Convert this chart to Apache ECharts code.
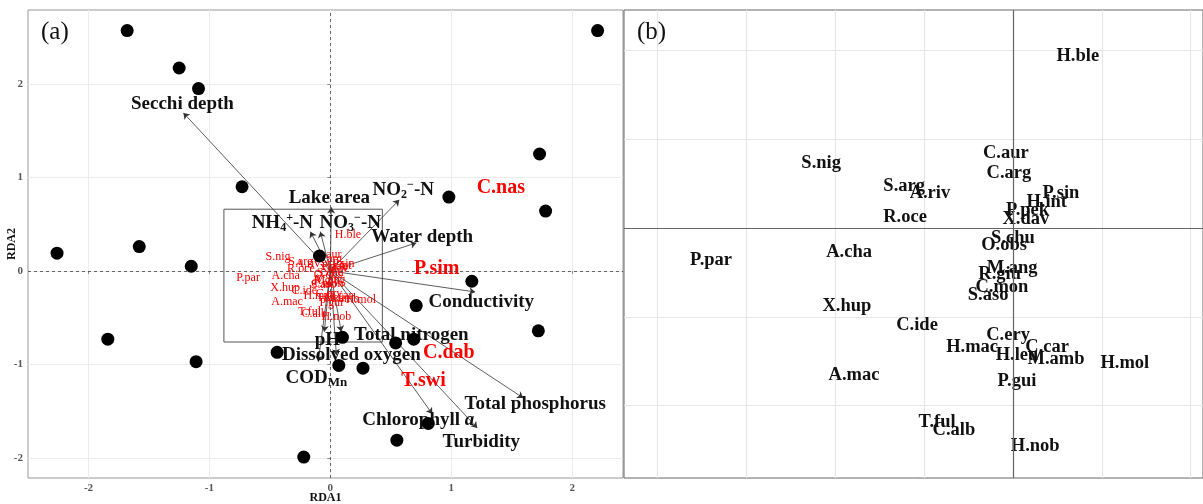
<!DOCTYPE html>
<html>
<head>
<meta charset="utf-8">
<script src="https://cdn.jsdelivr.net/npm/echarts@6/dist/echarts.min.js"></script>
<style>
  html, body { margin: 0; padding: 0; background: #fff; }
  #chart { width: 1203px; height: 504px; }
</style>
</head>
<body>
<div id="chart"></div>
<script>
// Sites (black dots), RDA1 / RDA2
const siteX = [-1.68, -1.25, -1.09, -0.73, -2.26, -1.58, -1.15, -1.84, -1.11, -0.22, -0.44, -0.09, 0.10,
  0.07, 0.27, 0.54, 0.69, 0.71, 1.17, 1.72, 0.81, 0.55, 0.98, 1.73, 1.78, 2.21];
const siteY = [2.57, 2.17, 1.95, 0.90, 0.19, 0.26, 0.05, -0.73, -0.97, -1.99, -0.87, 0.16, -0.71,
  -1.01, -1.04, -0.77, -0.73, -0.37, -0.11, -0.64, -1.63, -1.81, 0.79, 1.25, 0.64, 2.57];

// Environmental variables (arrow tips and label spots)
const envNames = ["Secchi depth", "Lake area", "NH{sub|4}{sup|+}-N", "NO{sub|3}{sup|\u2212}-N",
  "NO{sub|2}{sup|\u2212}-N", "Water depth", "Conductivity", "Total phosphorus",
  "Chlorophyll {it|a}", "Turbidity", "Total nitrogen", "pH", "Dissolved oxygen", "COD{mn|Mn}"];
const envX = [-1.215, 0.008, -0.165, -0.083, 0.57, 0.711, 1.198, 1.595, 0.843, 1.215, 0.09, -0.05, 0.05, -0.10];
const envY = [1.69, 0.68, 0.42, 0.42, 0.76, 0.30, -0.225, -1.358, -1.529, -1.679, -0.65, -0.65, -0.90, -0.97];
const envLabelX = [-1.223, -0.008, -0.397, 0.165, 0.603, 0.76, 1.248, 1.694, 0.727, 1.248, 0.67, -0.025, 0.174, -0.116];
const envLabelY = [1.786, 0.78, 0.513, 0.513, 0.866, 0.364, -0.332, -1.422, -1.594, -1.829, -0.684, -0.738, -0.898, -1.144];

// Species scores (red in panel a, black in panel b)
const sppNames = ["H.ble", "S.nig", "C.aur", "C.arg", "S.arg", "A.riv", "R.oce", "P.sin", "H.int", "P.pek",
  "X.dav", "S.chu", "O.obs", "M.ang", "R.giu", "C.mon", "S.aso", "P.par", "A.cha", "X.hup", "C.ide", "A.mac",
  "C.ery", "H.mac", "C.car", "H.leu", "M.amb", "H.mol", "P.gui", "T.ful", "C.alb", "H.nob"];
const sppX = [0.146, -0.432, -0.016, -0.009, -0.245, -0.187, -0.243, 0.108, 0.076, 0.033,
  0.029, 0.0, -0.02, -0.002, -0.03, -0.025, -0.056, -0.68, -0.369, -0.374, -0.216, -0.358,
  -0.011, -0.092, 0.077, 0.009, 0.097, 0.252, 0.009, -0.171, -0.133, 0.05];
const sppY = [0.387, 0.146, 0.169, 0.124, 0.095, 0.079, 0.025, 0.079, 0.058, 0.04,
  0.02, -0.023, -0.038, -0.09, -0.104, -0.133, -0.151, -0.072, -0.054, -0.176, -0.218, -0.331,
  -0.241, -0.268, -0.268, -0.286, -0.295, -0.304, -0.345, -0.437, -0.455, -0.491];

// Species lying outside the zoom box
const farSppNames = ["C.nas", "P.sim", "C.dab", "T.swi"];
const farSppX = [1.41, 0.88, 0.98, 0.77];
const farSppY = [0.89, 0.02, -0.88, -1.17];

// Axis ticks / grid
const ticksA = [-2, -1, 0, 1, 2];
const gridBx = [-0.8, -0.6, -0.4, -0.2, 0, 0.2, 0.4];
const gridBy = [-0.4, -0.2, 0, 0.2, 0.4];
const zoomBox = [-0.88, 0.66, 0.43, -0.76];

const SERIF = "'Liberation Serif', 'Times New Roman', serif";

const envRich = {
  sub: { fontFamily: SERIF, fontWeight: "bold", fontSize: 12, lineHeight: 12, verticalAlign: "bottom", fill: "#111" },
  sup: { fontFamily: SERIF, fontWeight: "bold", fontSize: 12, lineHeight: 12, verticalAlign: "top", fill: "#111" },
  it: { fontFamily: SERIF, fontWeight: "bold", fontStyle: "italic", fontSize: 19, fill: "#111" },
  mn: { fontFamily: SERIF, fontWeight: "bold", fontSize: 13, padding: [14, 0, 0, 0], verticalAlign: "bottom", fill: "#111" },
};

// text labels placed through the axes
const textSeries = (idx, names, xs, ys, style, z) => ({
  type: "custom",
  xAxisIndex: idx,
  yAxisIndex: idx,
  silent: true,
  z: z,
  data: names.map((n, i) => [xs[i], ys[i]]),
  encode: { x: 0, y: 1 },
  renderItem: (params, api) => {
    const p = api.coord([api.value(0), api.value(1)]);
    return {
      type: "text",
      x: p[0],
      y: p[1],
      style: Object.assign({ text: names[params.dataIndex], align: "center", verticalAlign: "middle" }, style),
    };
  },
});

const chart = echarts.init(document.getElementById("chart"));

const option = {
  animation: false,
  backgroundColor: "#fff",
  title: [
    { text: "(a)", left: 36, top: 15, textStyle: { fontFamily: SERIF, fontWeight: "normal", fontSize: 25, color: "#111" } },
    { text: "(b)", left: 632, top: 15, textStyle: { fontFamily: SERIF, fontWeight: "normal", fontSize: 25, color: "#111" } },
  ],
  grid: [
    { left: 28, top: 10, width: 595, height: 468, outerBoundsMode: "none", containLabel: false,
      show: true, borderColor: "#999", borderWidth: 1, backgroundColor: "transparent" },
    { left: 624, top: 10, width: 579, height: 468, outerBoundsMode: "none", containLabel: false,
      show: true, borderColor: "#666", borderWidth: 1, backgroundColor: "transparent" },
  ],
  xAxis: [
    {
      gridIndex: 0, type: "value", min: -2.5, max: 2.42,
      name: "RDA1", nameLocation: "middle", nameGap: 14, nameMoveOverlap: false,
      nameTextStyle: { fontFamily: SERIF, fontWeight: "bold", fontSize: 12, color: "#111" },
      axisLine: { show: false },
      axisTick: { show: true, length: 3, customValues: ticksA, lineStyle: { color: "#888" } },
      axisLabel: { customValues: ticksA, fontFamily: SERIF, fontWeight: "bold", fontSize: 11, color: "#555", margin: 5 },
      splitLine: { show: true, lineStyle: { color: "#ececec", width: 1 } },
    },
    {
      gridIndex: 1, type: "value", min: -0.876, max: 0.428,
      axisLine: { show: false },
      axisTick: { show: false, customValues: gridBx },
      axisLabel: { show: false },
      splitLine: { show: true, lineStyle: { color: "#e6e6e6", width: 1.2 } },
    },
  ],
  yAxis: [
    {
      gridIndex: 0, type: "value", min: -2.214, max: 2.79,
      name: "RDA2", nameLocation: "middle", nameGap: 10, nameRotate: 90, nameMoveOverlap: false,
      nameTextStyle: { fontFamily: SERIF, fontWeight: "bold", fontSize: 12, color: "#111" },
      axisLine: { show: false },
      axisTick: { show: true, length: 3, customValues: ticksA, lineStyle: { color: "#888" } },
      axisLabel: { customValues: ticksA, fontFamily: SERIF, fontWeight: "bold", fontSize: 11, color: "#555", margin: 5 },
      splitLine: { show: true, lineStyle: { color: "#ececec", width: 1 } },
    },
    {
      gridIndex: 1, type: "value", min: -0.563, max: 0.491,
      axisLine: { show: false },
      axisTick: { show: false, customValues: gridBy },
      axisLabel: { show: false },
      splitLine: { show: true, lineStyle: { color: "#e6e6e6", width: 1.2 } },
    },
  ],
  series: [
    // zoom box of panel (a)
    {
      type: "custom", xAxisIndex: 0, yAxisIndex: 0, silent: true, z: 1,
      data: [zoomBox],
      renderItem: (params, api) => {
        const p1 = api.coord([api.value(0), api.value(1)]);
        const p2 = api.coord([api.value(2), api.value(3)]);
        return {
          type: "rect",
          shape: { x: p1[0], y: p1[1], width: p2[0] - p1[0], height: p2[1] - p1[1] },
          style: { fill: "none", stroke: "#555", lineWidth: 1 },
        };
      },
    },
    // arrows
    {
      type: "lines", coordinateSystem: "cartesian2d", xAxisIndex: 0, yAxisIndex: 0, silent: true, z: 2,
      symbol: ["none", "arrow"], symbolSize: 6,
      lineStyle: { color: "#333", width: 0.8, opacity: 1, curveness: 0 },
      data: envNames.map((n, i) => ({ coords: [[0, 0], [envX[i], envY[i]]] })),
    },
    textSeries(0, sppNames, sppX, sppY, { fontFamily: SERIF, fontSize: 12, fill: "#ff0000" }, 3),
    textSeries(0, farSppNames, farSppX, farSppY, { fontFamily: SERIF, fontWeight: "bold", fontSize: 20, fill: "#ff0000" }, 3),
    textSeries(0, envNames, envLabelX, envLabelY,
      { fontFamily: SERIF, fontWeight: "bold", fontSize: 19, lineHeight: 22, fill: "#111", rich: envRich }, 4),
    // sites
    {
      type: "scatter", xAxisIndex: 0, yAxisIndex: 0, silent: true, z: 5,
      symbolSize: 13,
      itemStyle: { color: "#000", opacity: 1 },
      data: siteX.map((x, i) => [x, siteY[i]]),
      markLine: {
        silent: true, symbol: "none", label: { show: false },
        lineStyle: { type: [3, 3], color: "#444", width: 0.8 },
        data: [{ xAxis: 0 }, { yAxis: 0 }],
      },
    },
    // panel (b)
    {
      type: "scatter", xAxisIndex: 1, yAxisIndex: 1, silent: true, symbolSize: 0, data: [],
      markLine: {
        silent: true, symbol: "none", label: { show: false },
        lineStyle: { type: "solid", color: "#666", width: 1.2 },
        data: [{ xAxis: 0 }, { yAxis: 0 }],
      },
    },
    textSeries(1, sppNames, sppX, sppY, { fontFamily: SERIF, fontWeight: "bold", fontSize: 18.5, fill: "#111" }, 4),
  ],
};

chart.setOption(option);
</script>
</body>
</html>
